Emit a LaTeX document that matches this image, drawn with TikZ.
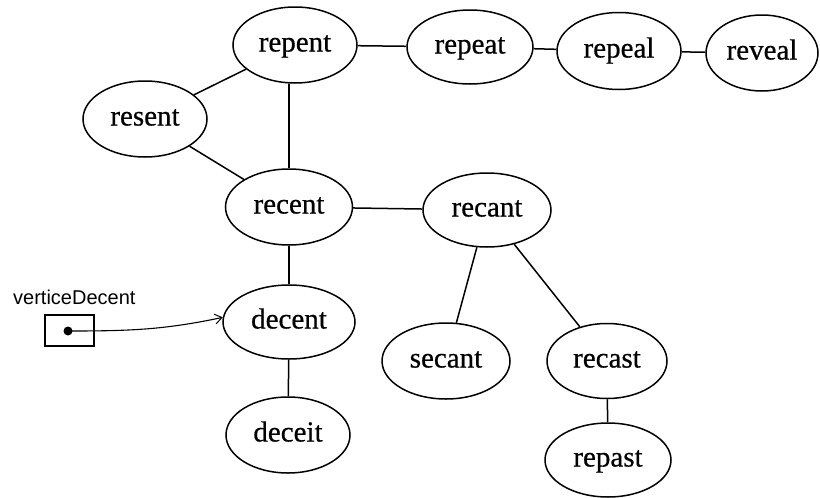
\documentclass[tikz,border=0pt]{standalone}
\usepackage{fontspec}
\setmainfont{Liberation Serif}
\newfontfamily\nodefont[FakeBold=0.6]{Liberation Serif}
\newfontfamily\lblfont{Liberation Sans}
\usetikzlibrary{shapes.geometric,arrows.meta}
\begin{document}
\begin{tikzpicture}[x=1pt,y=1pt,
  word/.style={ellipse, draw, line width=1.5pt, inner sep=0pt,
    font=\nodefont\fontsize{29}{30}\selectfont, text height=13pt, text depth=0pt},
  edge/.style={line width=1.5pt},
  ptrbox/.style={draw, line width=1.2pt, minimum width=49pt, minimum height=31pt, inner sep=0pt},
  ptrdot/.style={circle, fill=black, minimum size=9pt, inner sep=0pt},
  ptr/.style={line width=1.1pt, -{Straight Barb[length=7pt,width=10pt,line width=1pt]}}]
\useasboundingbox (0,0) rectangle (820,-498);
% nodes
\node[word, minimum width=124pt, minimum height=76pt] (repent) at (295,-45) {repent};
\node[word, minimum width=126pt, minimum height=74pt] (repeat) at (470,-47) {repeat};
\node[word, minimum width=124pt, minimum height=77pt] (repeal) at (619,-51) {repeal};
\node[word, minimum width=112pt, minimum height=76pt] (reveal) at (762,-53) {reveal};
\node[word, minimum width=124pt, minimum height=76pt] (resent) at (145,-119) {resent};
\node[word, minimum width=127pt, minimum height=76pt] (recent) at (289,-207) {recent};
\node[word, minimum width=128pt, minimum height=74pt] (recant) at (487,-210) {recant};
\node[word, minimum width=132pt, minimum height=74pt] (decent) at (289,-322) {decent};
\node[word, minimum width=124pt, minimum height=76pt] (deceit) at (288,-435) {deceit};
\node[word, minimum width=128pt, minimum height=76pt] (secant) at (446,-361) {secant};
\node[word, minimum width=120pt, minimum height=75pt] (recast) at (607,-361) {recast};
\node[word, minimum width=126pt, minimum height=74pt] (repast) at (608,-460) {repast};
% edges
\draw[edge] (repent) -- (repeat);
\draw[edge] (repeat) -- (repeal);
\draw[edge] (repeal) -- (reveal);
\draw[edge] (resent) -- (repent);
\draw[edge] (resent) -- (recent);
\draw[edge] (recent.north) -- (recent.north |- repent.south);
\draw[edge] (recent) -- (recant);
\draw[edge] (recent) -- (decent);
\draw[edge] (decent) -- (deceit);
\draw[edge] (recant) -- (secant);
\draw[edge] (recant) -- (recast);
\draw[edge] (recast) -- (repast);
% pointer
\node[anchor=base west, inner sep=0pt, font=\lblfont\fontsize{20}{22}\selectfont] (lbl) at (13,-304) {verticeDecent};
\node[ptrbox] (box) at (69.5,-330.5) {};
\node[ptrdot] (dot) at (68,-331) {};
\draw[ptr] (dot.center) to[out=0, in=192] (decent.176);
\end{tikzpicture}
\end{document}
